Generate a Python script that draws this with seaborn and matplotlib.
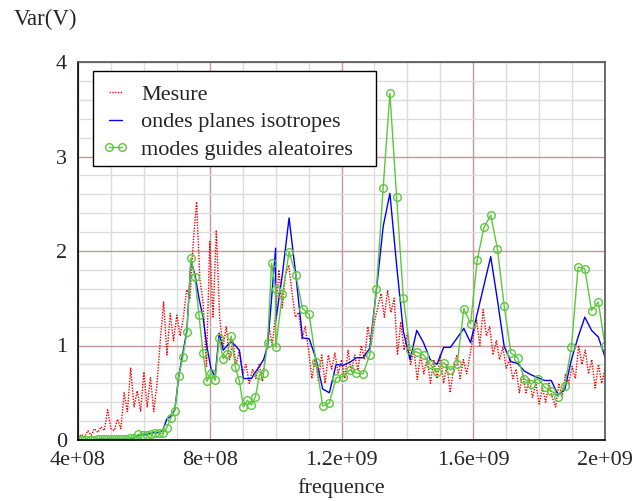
import numpy as np
import pandas as pd
import matplotlib
matplotlib.use("Agg")
import matplotlib.pyplot as plt
from matplotlib.patches import Rectangle
import seaborn as sns

# ---------------- data ----------------
# Mesure (dotted red), one value every 1e7 Hz from 4e8 to 2e9
mesure_freq = np.arange(4.0e8, 2.0e9 + 1, 1.0e7)
mesure_val = [
    0.02, 0.06, 0.03, 0.10, 0.05, 0.12, 0.08, 0.14, 0.10, 0.32,
    0.12, 0.10, 0.22, 0.12, 0.50, 0.30, 0.76, 0.35, 0.52, 0.30,
    0.72, 0.35, 0.66, 0.30, 0.60, 1.06, 1.46, 0.90, 1.34, 1.05,
    1.32, 1.10, 1.30, 1.59, 1.50, 2.10, 2.52, 1.70, 1.45, 0.78,
    2.10, 1.30, 2.22, 1.30, 0.98, 1.20, 0.85, 1.05, 0.80, 0.95,
    0.70, 0.80, 0.60, 0.75, 0.65, 0.80, 0.62, 0.92, 1.20, 1.00,
    1.34, 1.80, 1.40, 1.75, 1.85, 1.55, 1.30, 1.35, 1.07, 1.20,
    0.95, 0.65, 0.85, 0.62, 0.90, 0.60, 0.90, 0.75, 0.92, 0.70,
    0.85, 0.65, 0.95, 0.72, 0.90, 0.74, 1.00, 0.85, 1.20, 1.00,
    1.25, 1.40, 1.55, 1.30, 1.58, 1.35, 1.50, 0.90, 1.25, 0.95,
    1.13, 0.80, 0.95, 0.64, 0.90, 0.70, 0.87, 0.60, 0.85, 0.65,
    0.90, 0.60, 0.80, 0.50, 0.75, 0.90, 0.65, 0.85, 0.70, 0.90,
    1.10, 1.27, 1.00, 1.38, 1.10, 1.20, 0.90, 1.05, 0.85, 0.98,
    0.76, 0.85, 0.65, 0.75, 0.50, 0.70, 0.50, 0.65, 0.45, 0.60,
    0.38, 0.55, 0.40, 0.60, 0.45, 0.35, 0.60, 0.45, 0.70, 0.60,
    0.78, 0.65, 1.00, 0.80, 0.95, 0.70, 0.85, 0.55, 0.80, 0.60,
    0.75,
]

# model frequencies: two bands joined at 1e9 Hz
band1_freq = np.linspace(4.0e8, 1.0e9, 50)
band2_freq = np.linspace(1.0e9, 2.0e9, 50)

# ondes planes isotropes (blue)
ondes_band1 = [
    0.00, 0.00, 0.00, 0.00, 0.00, 0.01, 0.01, 0.01, 0.01, 0.01,
    0.01, 0.01, 0.01, 0.02, 0.02, 0.05, 0.06, 0.06, 0.07, 0.08,
    0.08, 0.10, 0.22, 0.25, 0.32, 0.68, 0.92, 1.16, 1.90, 1.75,
    1.50, 1.30, 0.98, 0.75, 0.67, 1.13, 0.95, 1.00, 1.04, 1.00,
    0.95, 0.65, 0.65, 0.65, 0.72, 0.78, 0.85, 0.99, 1.50, 2.03,
]
ondes_band2 = [
    1.25, 1.75, 2.35, 1.75, 1.08, 1.07, 0.86, 0.54, 0.50, 0.80,
    0.79, 0.82, 0.87, 0.87, 0.97, 1.59, 2.26, 2.61, 1.85, 1.15,
    0.85, 1.16, 1.03, 0.85, 0.80, 0.98, 0.98, 1.08, 1.18, 1.03,
    1.34, 1.64, 1.94, 1.48, 0.99, 0.83, 0.81, 0.73, 0.69, 0.66,
    0.63, 0.63, 0.48, 0.53, 0.85, 1.09, 1.30, 1.16, 1.09, 0.88,
]

# modes guides aleatoires (green, circles)
modes_band1 = [
    0.00, 0.00, 0.00, 0.00, 0.00, 0.01, 0.01, 0.01, 0.01, 0.01,
    0.01, 0.01, 0.01, 0.02, 0.02, 0.06, 0.05, 0.05, 0.06, 0.07,
    0.07, 0.07, 0.13, 0.23, 0.31, 0.68, 0.88, 1.14, 1.93, 1.72,
    1.32, 0.92, 0.62, 0.71, 0.63, 1.08, 0.86, 0.91, 1.10, 0.77,
    0.63, 0.35, 0.42, 0.37, 0.46, 0.69, 0.71, 1.03, 1.87, 1.60,
]
modes_band2 = [
    0.98, 1.54, 1.99, 1.75, 1.39, 1.33, 0.83, 0.36, 0.39, 0.66,
    0.67, 0.74, 0.71, 0.70, 0.90, 1.60, 2.67, 3.67, 2.57, 1.50,
    0.95, 0.93, 0.90, 0.80, 0.72, 0.82, 0.74, 0.80, 1.39, 1.23,
    1.91, 2.25, 2.38, 2.02, 1.42, 0.92, 0.87, 0.65, 0.59, 0.65,
    0.56, 0.52, 0.46, 0.57, 0.98, 1.83, 1.81, 1.37, 1.46, 1.00,
]

x_ticks = [4.0e8, 8.0e8, 1.2e9, 1.6e9, 2.0e9]
x_tick_labels = ["4e+08", "8e+08", "1.2e+09", "1.6e+09", "2e+09"]
y_ticks = [0, 1, 2, 3, 4]
y_tick_labels = ["0", "1", "2", "3", "4"]

# ---------------- frames ----------------
df_mes = pd.DataFrame({"f": mesure_freq, "v": mesure_val})
df_ond = pd.DataFrame({"f": np.concatenate([band1_freq, band2_freq]),
                       "v": ondes_band1 + ondes_band2})
df_mod = pd.DataFrame({"f": np.concatenate([band1_freq, band2_freq]),
                       "v": modes_band1 + modes_band2})

# ---------------- style ----------------
sns.set_style("white")
plt.rcParams["font.family"] = ["Liberation Serif", "DejaVu Serif"]
FS = 16

W, H = 633, 501
fig = plt.figure(figsize=(W / 100, H / 100), dpi=100)
ax = fig.add_axes([78 / W, 61 / H, 527 / W, 378 / H])

sns.lineplot(data=df_mes, x="f", y="v", ax=ax, sort=False, estimator=None,
             color="#ff0000", linewidth=1.0, linestyle=(0, (1, 1)),
             label="Mesure")
sns.lineplot(data=df_ond, x="f", y="v", ax=ax, sort=False, estimator=None,
             color="#0000ff", linewidth=1.0, label="ondes planes isotropes")
sns.lineplot(data=df_mod, x="f", y="v", ax=ax, sort=False, estimator=None,
             color="#5cc83c", linewidth=1.0, marker="o", markersize=5.5,
             markerfacecolor="none", markeredgecolor="#5cc83c",
             markeredgewidth=1.0, label="modes guides aleatoires")

ax.set_xlim(4.0e8, 2.0e9)
ax.set_ylim(0, 4)
ax.set_xticks(x_ticks)
ax.set_xticklabels(x_tick_labels, fontsize=FS)
ax.set_yticks(y_ticks)
ax.set_yticklabels(y_tick_labels, fontsize=FS)
ax.set_xticks(np.arange(4.0e8, 2.0e9 + 1, 1.0e8), minor=True)
ax.set_yticks(np.arange(0, 4.01, 0.2), minor=True)
ax.tick_params(which="both", length=0)
ax.tick_params(axis="x", which="major", pad=8)
ax.tick_params(axis="y", which="major", pad=8)

ax.set_axisbelow(True)
ax.grid(which="minor", color="#dcdcdc", linewidth=1.0)
ax.grid(which="major", color="#bf9a9a", linewidth=1.0)

for side in ["left", "bottom"]:
    ax.spines[side].set_color("black")
    ax.spines[side].set_linewidth(1.2)
for side in ["top", "right"]:
    ax.spines[side].set_color("#555555")
    ax.spines[side].set_linewidth(1.2)

ax.set_xlabel("frequence", fontsize=FS, labelpad=6)
ax.set_ylabel("")
fig.text(14 / W, 1 - 19 / H, "Var(V)", fontsize=16.5, ha="left", va="center")

# legend: entries placed by anchor, frame drawn as a separate box
leg = ax.legend(loc="upper left", bbox_to_anchor=(13 / 527, 1 - 11 / 378),
                borderaxespad=0, fontsize=FS, frameon=False, numpoints=2,
                handlelength=1.2, handletextpad=0.55, labelspacing=0.32,
                borderpad=0.5)
leg.set_zorder(6)
frame = Rectangle((93 / W, 1 - 166 / H), (376 - 93) / W, (166 - 71) / H,
                  transform=fig.transFigure, facecolor="white",
                  edgecolor="black", linewidth=1.0, zorder=5)
ax.add_patch(frame)

fig.savefig("out.png", dpi=100)
